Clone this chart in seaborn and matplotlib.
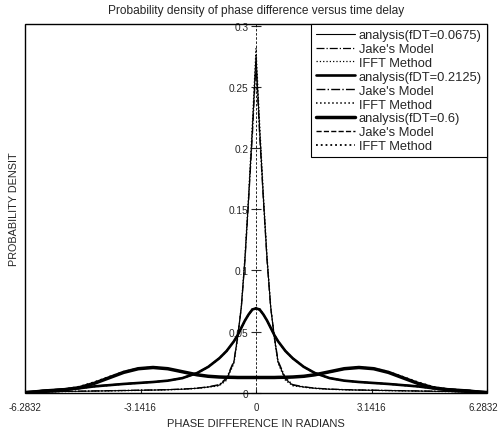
import numpy as np
import matplotlib
matplotlib.use("Agg")
import matplotlib.pyplot as plt
import matplotlib.ticker as mticker
import matplotlib.transforms as mtransforms
from matplotlib.patches import Rectangle
import seaborn as sns

sns.set_style("white")
plt.rcParams["font.family"] = ["Liberation Sans", "DejaVu Sans"]

# phase difference grid (radians)
phase = [-6.28, -5.8, -5.3, -4.8, -4.4, -4.0, -3.6, -3.2, -2.8, -2.4, -2.0,
         -1.6, -1.3, -1.0, -0.8, -0.6, -0.5, -0.4, -0.3, -0.2, -0.1, 0.0,
         0.1, 0.2, 0.3, 0.4, 0.5, 0.6, 0.8, 1.0, 1.3, 1.6, 2.0, 2.4, 2.8,
         3.2, 3.6, 4.0, 4.4, 4.8, 5.3, 5.8, 6.28]

# fDT = 0.0675
ana_1 = [0.0, 0.0005, 0.0008, 0.001, 0.0012, 0.0014, 0.0016, 0.0018, 0.002, 0.0023, 0.0027,
         0.0035, 0.0045, 0.006, 0.011, 0.025, 0.045, 0.07, 0.11, 0.16, 0.215, 0.276,
         0.215, 0.16, 0.11, 0.07, 0.045, 0.025, 0.011, 0.006, 0.0045, 0.0035, 0.0027, 0.0023, 0.002,
         0.0018, 0.0016, 0.0014, 0.0012, 0.001, 0.0008, 0.0005, 0.0]
jakes_1 = [0.0, 0.0006, 0.0009, 0.0011, 0.0013, 0.0015, 0.0017, 0.0019, 0.0021, 0.0024, 0.0028,
           0.0036, 0.0047, 0.0065, 0.012, 0.026, 0.046, 0.069, 0.108, 0.158, 0.21, 0.27,
           0.21, 0.158, 0.108, 0.069, 0.046, 0.026, 0.012, 0.0065, 0.0047, 0.0036, 0.0028, 0.0024, 0.0021,
           0.0019, 0.0017, 0.0015, 0.0013, 0.0011, 0.0009, 0.0006, 0.0]
ifft_1 = [0.0, 0.0004, 0.0007, 0.0009, 0.0011, 0.0013, 0.0015, 0.0017, 0.0019, 0.0022, 0.0026,
          0.0033, 0.0043, 0.0055, 0.010, 0.024, 0.044, 0.071, 0.112, 0.163, 0.22, 0.282,
          0.22, 0.163, 0.112, 0.071, 0.044, 0.024, 0.010, 0.0055, 0.0043, 0.0033, 0.0026, 0.0022, 0.0019,
          0.0017, 0.0015, 0.0013, 0.0011, 0.0009, 0.0007, 0.0004, 0.0]

# fDT = 0.2125
ana_2 = [0.0, 0.0015, 0.0025, 0.0035, 0.005, 0.006, 0.007, 0.0078, 0.0086, 0.0097, 0.0118,
         0.016, 0.021, 0.028, 0.034, 0.042, 0.047, 0.053, 0.059, 0.064, 0.068, 0.069,
         0.068, 0.064, 0.059, 0.053, 0.047, 0.042, 0.034, 0.028, 0.021, 0.016, 0.0118, 0.0097, 0.0086,
         0.0078, 0.007, 0.006, 0.005, 0.0035, 0.0025, 0.0015, 0.0]
jakes_2 = [0.0, 0.0018, 0.0028, 0.0038, 0.0052, 0.0062, 0.0071, 0.0079, 0.0087, 0.0098, 0.012,
           0.0162, 0.0212, 0.0282, 0.0342, 0.0418, 0.0468, 0.0528, 0.0588, 0.0638, 0.0675, 0.0685,
           0.0675, 0.0638, 0.0588, 0.0528, 0.0468, 0.0418, 0.0342, 0.0282, 0.0212, 0.0162, 0.012, 0.0098, 0.0087,
           0.0079, 0.0071, 0.0062, 0.0052, 0.0038, 0.0028, 0.0018, 0.0]
ifft_2 = [0.0, 0.0013, 0.0023, 0.0033, 0.0048, 0.0058, 0.0069, 0.0077, 0.0085, 0.0096, 0.0116,
          0.0158, 0.0208, 0.0278, 0.0338, 0.0422, 0.0472, 0.0532, 0.0592, 0.0642, 0.0685, 0.0695,
          0.0685, 0.0642, 0.0592, 0.0532, 0.0472, 0.0422, 0.0338, 0.0278, 0.0208, 0.0158, 0.0116, 0.0096, 0.0085,
          0.0077, 0.0069, 0.0058, 0.0048, 0.0033, 0.0023, 0.0013, 0.0]

# fDT = 0.6
ana_3 = [0.0, 0.0008, 0.0018, 0.004, 0.0075, 0.012, 0.0165, 0.0195, 0.0205, 0.0195, 0.017,
         0.0145, 0.0133, 0.0127, 0.0125, 0.0124, 0.0123, 0.0123, 0.0123, 0.0123, 0.0123, 0.0123,
         0.0123, 0.0123, 0.0123, 0.0123, 0.0123, 0.0124, 0.0125, 0.0127, 0.0133, 0.0145, 0.017, 0.0195, 0.0205,
         0.0195, 0.0165, 0.012, 0.0075, 0.004, 0.0018, 0.0008, 0.0]
jakes_3 = [0.0, 0.0009, 0.002, 0.0042, 0.0078, 0.0122, 0.0166, 0.0197, 0.0207, 0.0197, 0.0172,
           0.0147, 0.0134, 0.0128, 0.0126, 0.0125, 0.0124, 0.0124, 0.0124, 0.0124, 0.0124, 0.0124,
           0.0124, 0.0124, 0.0124, 0.0124, 0.0124, 0.0125, 0.0126, 0.0128, 0.0134, 0.0147, 0.0172, 0.0197, 0.0207,
           0.0197, 0.0166, 0.0122, 0.0078, 0.0042, 0.002, 0.0009, 0.0]
ifft_3 = [0.0, 0.001, 0.0022, 0.0048, 0.0085, 0.0128, 0.017, 0.0198, 0.0206, 0.0194, 0.0168,
          0.0144, 0.0132, 0.0126, 0.0124, 0.0123, 0.0122, 0.0122, 0.0122, 0.0122, 0.0122, 0.0122,
          0.0122, 0.0122, 0.0122, 0.0122, 0.0122, 0.0123, 0.0124, 0.0126, 0.0132, 0.0144, 0.0168, 0.0194, 0.0206,
          0.0198, 0.017, 0.0128, 0.0085, 0.0048, 0.0022, 0.001, 0.0]

labels = ["analysis(fDT=0.0675)", "Jake's Model", "IFFT Method",
          "analysis(fDT=0.2125)", "Jake's Model", "IFFT Method",
          "analysis(fDT=0.6)", "Jake's Model", "IFFT Method"]
curves = [ana_1, jakes_1, ifft_1, ana_2, jakes_2, ifft_2, ana_3, jakes_3, ifft_3]
widths = [0.8, 0.9, 0.9, 1.9, 1.0, 1.1, 2.5, 1.0, 1.3]
styles = ["-", "-.", ":", "-", "-.", ":", "-", "--", ":"]

xtick_vals = [-2 * np.pi, -np.pi, 0, np.pi, 2 * np.pi]
ytick_vals = [0, 0.05, 0.1, 0.15, 0.2, 0.25, 0.3]

fig = plt.figure(figsize=(5, 4.35), dpi=100)
ax = fig.add_axes([0.05, 0.0954, 0.924, 0.847])

for lab, vals, lw, ls in zip(labels, curves, widths, styles):
    sns.lineplot(x=phase, y=vals, ax=ax, color="black", lw=lw, linestyle=ls, label=lab)

ax.set_xlim(-2 * np.pi, 2 * np.pi)
ax.set_ylim(0, 0.302)
ax.set_xticks(xtick_vals)
ax.set_yticks(ytick_vals)
ax.xaxis.set_major_formatter(mticker.FuncFormatter(lambda v, p: "0" if abs(v) < 1e-9 else "%.5g" % v))
ax.yaxis.set_major_formatter(mticker.FuncFormatter(lambda v, p: "%g" % v))

# y axis drawn through the origin, box around the plot
for s in ["top", "right", "bottom"]:
    ax.spines[s].set_visible(False)
ax.spines["left"].set_position(("data", 0))
ax.spines["left"].set_linestyle((0, (2, 3)))
ax.spines["left"].set_linewidth(0.6)
ax.spines["left"].set_color("black")
ax.add_patch(Rectangle((0, 0), 1, 1, transform=ax.transAxes, fill=False,
                       lw=1.0, edgecolor="black", clip_on=False, zorder=5))

ax.tick_params(axis="y", direction="inout", length=7, width=0.8, labelsize=7.3, pad=2, left=True)
ax.tick_params(axis="x", direction="in", length=3, width=0.8, labelsize=7, pad=7, bottom=True)

# keep the last x tick label inside the figure
last = ax.get_xticklabels()[-1]
last.set_transform(last.get_transform() + mtransforms.ScaledTranslation(-4 / 100, 0, fig.dpi_scale_trans))

ax.set_title("Probability density of phase difference versus time delay", fontsize=8.6, pad=8)
ax.set_xlabel("PHASE DIFFERENCE IN RADIANS", fontsize=8, labelpad=4)
ax.set_ylabel("PROBABILITY DENSIT", fontsize=7.8)
ax.yaxis.set_label_coords(-0.014, 0.5)

ax.legend(loc="upper right", bbox_to_anchor=(1.0, 1.0), borderaxespad=0, fontsize=9.3,
          frameon=True, fancybox=False, framealpha=1, edgecolor="black",
          handlelength=3.0, handletextpad=0.3, labelspacing=0.14, borderpad=0.4)
ax.get_legend().get_frame().set_linewidth(0.8)

fig.savefig("out.png", dpi=100)
